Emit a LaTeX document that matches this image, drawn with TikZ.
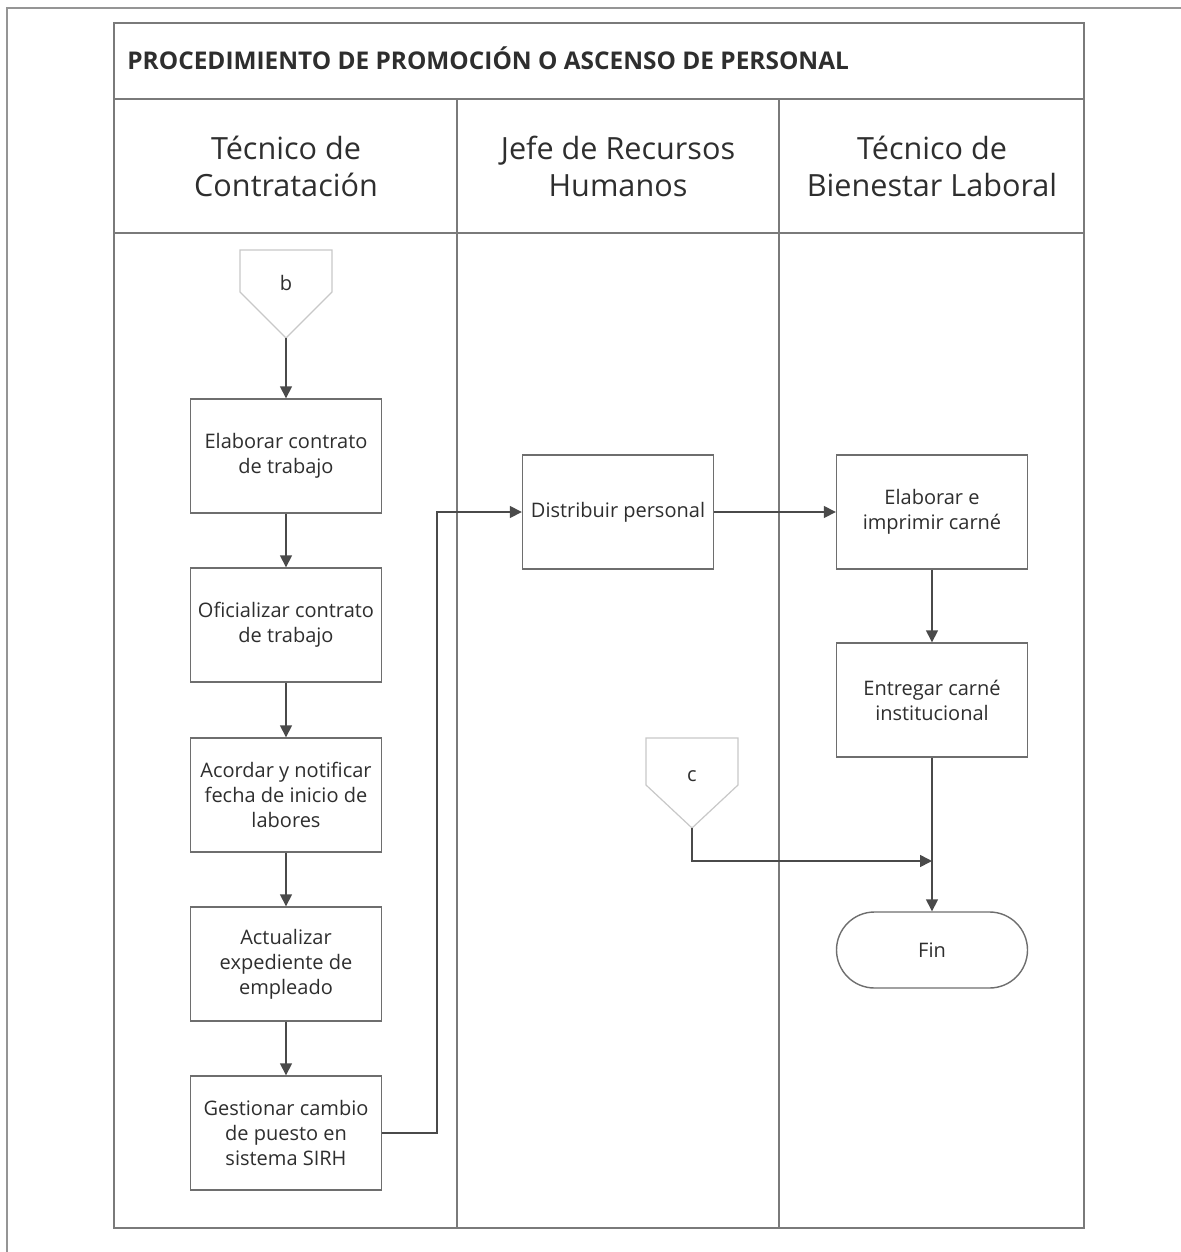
\documentclass[tikz,border=0pt]{standalone}
\usepackage{fontspec}
\setmainfont{Open Sans}
\usetikzlibrary{arrows.meta}

\definecolor{framegray}{HTML}{7A7A7A}
\definecolor{boxgray}{HTML}{6E6E6E}
\definecolor{linegray}{HTML}{4A4A4A}
\definecolor{connectorgray}{HTML}{C8C8C8}
\definecolor{inkgray}{HTML}{2E2E2E}

\begin{document}
\begin{tikzpicture}[x=0.5pt,y=-0.5pt,
  frame/.style={draw=framegray,line width=0.7pt},
  pageedge/.style={draw=framegray!80,line width=0.6pt},
  proc/.style={draw=boxgray,line width=0.7pt,fill=white,
    minimum width=95.5pt,minimum height=57pt,align=center,
    inner sep=2pt,text=inkgray,font=\fontsize{10}{12.5}\selectfont},
  term/.style={proc,minimum height=38pt,rounded corners=19pt},
  lanehead/.style={align=center,text=inkgray,
    font=\fontsize{15.3}{18.5}\selectfont},
  offpage/.style={draw=connectorgray,line width=0.6pt,fill=white},
  flow/.style={draw=linegray,line width=0.75pt,
    -{Triangle[length=6pt,width=6pt]}},
  plain/.style={draw=linegray,line width=0.75pt}]
\useasboundingbox (0,0) rectangle (1181,1252);

% page edges
\draw[pageedge] (7,1252) -- (7,8) -- (1181,8);

% pool frame, title bar and lanes
\draw[frame] (114,23) rectangle (1084,1228);
\draw[frame] (114,99) -- (1084,99);
\draw[frame] (114,233) -- (1084,233);
\draw[frame] (457,99) -- (457,1228);
\draw[frame] (779,99) -- (779,1228);

\node[anchor=base west,inner sep=0pt,text=inkgray,font=\fontsize{12.2}{14}\bfseries\selectfont]
  (title) at (127,70) {PROCEDIMIENTO DE PROMOCIÓN O ASCENSO DE PERSONAL};

\node[lanehead] (h1) at (286,166) {Técnico de\\Contratación};
\node[lanehead] (h2) at (618,166) {Jefe de Recursos\\Humanos};
\node[lanehead] (h3) at (932,166) {Técnico de\\Bienestar Laboral};

% off-page connector b
\draw[offpage] (240,250) -- (332,250) -- (332,292) -- (286,338) -- (240,292) -- cycle;
\node[text=inkgray,font=\fontsize{10}{12}\selectfont] (b) at (286,283) {b};
\coordinate (btip) at (286,338);

% Técnico de Contratación lane
\node[proc] (p1) at (286,456) {Elaborar contrato\\de trabajo};
\node[proc] (p2) at (286,625) {Oficializar contrato\\de trabajo};
\node[proc] (p3) at (286,795) {Acordar y notificar\\fecha de inicio de\\labores};
\node[proc] (p4) at (286,964) {Actualizar\\expediente de\\empleado};
\node[proc] (p5) at (286,1133) {Gestionar cambio\\de puesto en\\sistema SIRH};

% Jefe de Recursos Humanos lane
\node[proc] (p6) at (618,512) {Distribuir personal};

% Técnico de Bienestar Laboral lane
\node[proc] (p7) at (932,512) {Elaborar e\\imprimir carné};
\node[proc] (p8) at (932,700) {Entregar carné\\institucional};
\node[term] (fin) at (932,950) {Fin};

% off-page connector c
\draw[offpage] (646,738) -- (738,738) -- (738,785) -- (692,828) -- (646,785) -- cycle;
\node[text=inkgray,font=\fontsize{10}{12}\selectfont] (c) at (692,776) {c};
\coordinate (ctip) at (692,828);
\coordinate (join) at (932,861);

% connectors
\draw[flow] (btip) -- (p1);
\draw[flow] (p1) -- (p2);
\draw[flow] (p2) -- (p3);
\draw[flow] (p3) -- (p4);
\draw[flow] (p4) -- (p5);
\draw[flow] (p5.east) -| (437,512) -- (p6.west);
\draw[flow] (p6) -- (p7);
\draw[flow] (p7) -- (p8);
\draw[flow] (p8) -- (fin);
\draw[flow] (ctip) |- (join);
\end{tikzpicture}
\end{document}
